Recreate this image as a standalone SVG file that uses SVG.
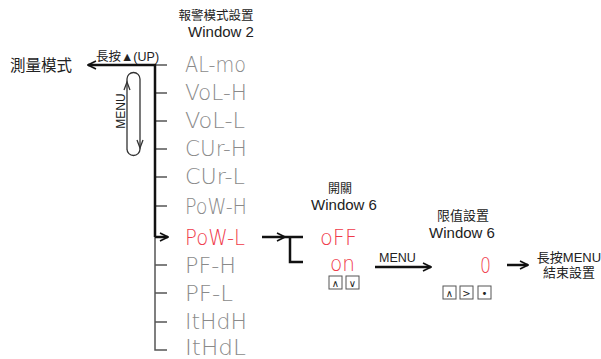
<svg xmlns="http://www.w3.org/2000/svg" width="601" height="359" viewBox="0 0 601 359">
<style>
.t{font-family:"Liberation Sans","Noto Sans CJK TC",sans-serif;fill:#222}
.seg{font-family:"DejaVu Sans",sans-serif;font-weight:200;font-size:21px;fill:#8a8a8a}
.red{fill:#f03a4a}
.blk{stroke:#111;stroke-width:2.5;fill:none}
.gry{stroke:#555;stroke-width:1.5;fill:none}
.btn{fill:#fff;stroke:#555;stroke-width:1}
.bt{font-family:"DejaVu Sans",sans-serif;font-size:10px;fill:#222;text-anchor:middle}
</style>
<defs>
<marker id="ah" viewBox="0 0 10 10" refX="9" refY="5" markerWidth="10" markerHeight="10" markerUnits="userSpaceOnUse" orient="auto">
<path d="M1,1 L9,5 L1,9" fill="none" stroke="#111" stroke-width="1.6"/>
</marker>
</defs>

<g id="connectors">
<path class="gry" d="M155,237 V350 H167"/>
<path class="gry" d="M155,65 H167 M155,93 H167 M155,121 H167 M155,149 H167 M155,177 H167 M155,206 H167 M155,265 H167 M155,293 H167 M155,322 H167"/>
<path class="blk" d="M155,237 V65 H88" marker-end="url(#ah)"/>
<path class="blk" d="M155,237 H168" marker-end="url(#ah)"/>
<path class="blk" d="M262,237 H285" marker-end="url(#ah)"/>
<path class="blk" d="M285,237 H303 M290,237 V262 H303"/>
<path class="blk" d="M375,267 H431" stroke-width="2" marker-end="url(#ah)"/>
<path class="blk" d="M507,265 H528" marker-end="url(#ah)"/>
<g id="menu-loop">
<path d="M127,150 V79 A6.5,6.5 0 0 1 140,79 V149 A6.5,6.5 0 0 1 127,149" fill="none" stroke="#333" stroke-width="1.3"/>
<path d="M124,90 L127,82 L130,90" fill="none" stroke="#333" stroke-width="1.3"/>
<path d="M137,140 L140,148 L143,140" fill="none" stroke="#333" stroke-width="1.3"/>
</g>
</g>

<g id="labels">
<text class="t" x="96" y="61" font-size="12.5">長按▲(UP)</text>
<text class="t" x="0" y="0" font-size="12" transform="translate(125,111) rotate(-90)" text-anchor="middle">MENU</text>
<text class="t" x="379" y="262" font-size="12.5">MENU</text>
</g>

<g id="node-measure"><text class="t" x="10" y="71" font-size="15.5">測量模式</text></g>
<g id="node-window2">
<text class="t" x="216" y="20" font-size="12.5" text-anchor="middle">報警模式設置</text>
<text class="t" x="221" y="37" font-size="15" text-anchor="middle">Window 2</text>
</g>

<g id="node-menu-items">
<g id="item-al"><text class="seg" x="185" y="72" textLength="61" lengthAdjust="spacingAndGlyphs">AL-mo</text></g>
<g id="item-volh"><text class="seg" x="185" y="100" textLength="62" lengthAdjust="spacingAndGlyphs">VoL-H</text></g>
<g id="item-voll"><text class="seg" x="185" y="128" textLength="60" lengthAdjust="spacingAndGlyphs">VoL-L</text></g>
<g id="item-curh"><text class="seg" x="185" y="156" textLength="62" lengthAdjust="spacingAndGlyphs">CUr-H</text></g>
<g id="item-curl"><text class="seg" x="185" y="184" textLength="60" lengthAdjust="spacingAndGlyphs">CUr-L</text></g>
<g id="item-powh"><text class="seg" x="185" y="214" textLength="62" lengthAdjust="spacingAndGlyphs">PoW-H</text></g>
<g id="item-powl"><text class="seg red" x="185" y="245" textLength="60" lengthAdjust="spacingAndGlyphs">PoW-L</text></g>
<g id="item-pfh"><text class="seg" x="185" y="273" textLength="51" lengthAdjust="spacingAndGlyphs">PF-H</text></g>
<g id="item-pfl"><text class="seg" x="185" y="301" textLength="48" lengthAdjust="spacingAndGlyphs">PF-L</text></g>
<g id="item-ithdh"><text class="seg" x="185" y="329" textLength="62" lengthAdjust="spacingAndGlyphs">ItHdH</text></g>
<g id="item-ithdl"><text class="seg" x="185" y="355" font-size="20" textLength="61" lengthAdjust="spacingAndGlyphs">ItHdL</text></g>
</g>

<g id="node-onoff">
<text class="t" x="340" y="193" font-size="12" text-anchor="middle">開關</text>
<text class="t" x="344" y="210" font-size="15" text-anchor="middle">Window 6</text>
<text class="seg red" x="320" y="245" font-size="27" textLength="37" lengthAdjust="spacingAndGlyphs">oFF</text>
<text class="seg red" x="330" y="271" font-size="19" textLength="25" lengthAdjust="spacingAndGlyphs">on</text>
<rect class="btn" x="329" y="276" width="13" height="13"/>
<text class="bt" x="335.5" y="286.5">∧</text>
<rect class="btn" x="346" y="276" width="13" height="13"/>
<text class="bt" x="352.5" y="286.5">∨</text>
</g>

<g id="node-limit">
<text class="t" x="463" y="220" font-size="13" text-anchor="middle">限值設置</text>
<text class="t" x="462" y="238" font-size="15" text-anchor="middle">Window 6</text>
<text class="seg red" x="480" y="273" font-size="21" textLength="11" lengthAdjust="spacingAndGlyphs">0</text>
<rect class="btn" x="443" y="286" width="13" height="13"/>
<text class="bt" x="449.5" y="296.5">∧</text>
<rect class="btn" x="460" y="286" width="13" height="13"/>
<text class="bt" x="466.5" y="296.5">&gt;</text>
<rect class="btn" x="478" y="286" width="13" height="13"/>
<text class="bt" x="484.5" y="296.5">•</text>
</g>

<g id="node-exit">
<text class="t" x="569" y="262" font-size="13" text-anchor="middle">長按MENU</text>
<text class="t" x="569" y="277" font-size="13" text-anchor="middle">結束設置</text>
</g>
</svg>
